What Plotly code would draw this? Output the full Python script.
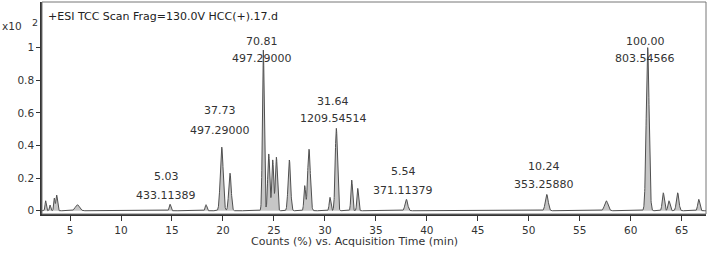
import numpy as np
import plotly.graph_objects as go

# ---- Data (retention time in min, relative height x10^2) ----
peak_rt = [2.61, 3.04, 3.46, 3.69, 5.72, 14.81, 18.34, 19.88, 20.69, 23.96, 24.49, 24.88,
           25.24, 26.51, 28.02, 28.44, 30.50, 31.12, 32.63, 33.22, 37.99, 51.76, 57.60,
           61.66, 63.19, 63.75, 64.60, 66.67]
peak_height = [0.061, 0.035, 0.076, 0.096, 0.037, 0.040, 0.037, 0.390, 0.230, 0.985, 0.348,
               0.311, 0.328, 0.311, 0.152, 0.377, 0.082, 0.505, 0.188, 0.137, 0.070, 0.100,
               0.061, 1.000, 0.110, 0.061, 0.110, 0.070]
peak_width = [0.06, 0.06, 0.06, 0.08, 0.20, 0.08, 0.08, 0.14, 0.12, 0.09, 0.10, 0.09,
              0.10, 0.12, 0.08, 0.13, 0.08, 0.11, 0.08, 0.08, 0.13, 0.14, 0.17,
              0.14, 0.10, 0.10, 0.12, 0.10]

label_pct = ["5.03", "37.73", "70.81", "31.64", "5.54", "10.24", "100.00"]
label_mz = ["433.11389", "497.29000", "497.29000", "1209.54514", "371.11379", "353.25880", "803.54566"]

x_ticks = [5, 10, 15, 20, 25, 30, 35, 40, 45, 50, 55, 60, 65]
y_ticks = [0, 0.2, 0.4, 0.6, 0.8, 1]

# ---- label placement (data units) ----
label_x = [14.42, 19.71, 23.83, 30.80, 37.66, 51.50, 61.40]
label_y_top = [0.207, 0.612, 1.037, 0.669, 0.239, 0.274, 1.037]
label_y_bot = [0.096, 0.495, 0.935, 0.567, 0.123, 0.162, 0.931]

# ---- build trace from peak table ----
t = np.arange(2.25, 67.40, 0.01)
y = np.zeros_like(t)
for rt, h, w in zip(peak_rt, peak_height, peak_width):
    y += h * np.exp(-0.5 * ((t - rt) / w) ** 2)

FONT = "DejaVu Sans"
fig = go.Figure()
fig.add_trace(go.Scatter(
    x=t, y=y, mode="lines", fill="tozeroy",
    fillcolor="#c6c6c6", line=dict(color="#505050", width=1),
    hoverinfo="skip", showlegend=False))

ann = []
for lx, p, m, yt, yb in zip(label_x, label_pct, label_mz, label_y_top, label_y_bot):
    ann.append(dict(x=lx, y=yt, text=p, showarrow=False, xanchor="center", yanchor="middle",
                    font=dict(family=FONT, size=11, color="#333333")))
    ann.append(dict(x=lx, y=yb, text=m, showarrow=False, xanchor="center", yanchor="middle",
                    font=dict(family=FONT, size=11, color="#333333")))

# header texts
ann.append(dict(xref="paper", yref="paper", x=0.0066, y=0.933, xanchor="left", yanchor="middle",
                text="+ESI TCC Scan Frag=130.0V HCC(+).17.d", showarrow=False,
                font=dict(family=FONT, size=11, color="#222222")))
ann.append(dict(xref="paper", yref="paper", x=-0.0633, y=0.885, xanchor="left", yanchor="middle",
                text="x10", showarrow=False, font=dict(family=FONT, size=10.5, color="#333333")))
ann.append(dict(xref="paper", yref="paper", x=-0.0185, y=0.905, xanchor="left", yanchor="middle",
                text="2", showarrow=False, font=dict(family=FONT, size=9.5, color="#333333")))
# x-axis title
ann.append(dict(xref="paper", yref="paper", x=0.4707, y=-0.13, xanchor="center", yanchor="middle",
                text="Counts (%) vs. Acquisition Time (min)", showarrow=False,
                font=dict(family=FONT, size=11, color="#333333")))

fig.update_layout(
    width=708, height=260,
    margin=dict(l=42, r=2, t=2, b=46),
    paper_bgcolor="white", plot_bgcolor="white",
    annotations=ann,
    shapes=[dict(type="rect", xref="paper", yref="paper", x0=0, y0=0, x1=1, y1=1,
                 line=dict(color="#777777", width=1), layer="above")],
    xaxis=dict(range=[2.25, 67.38], tickvals=x_ticks, ticks="outside", ticklen=5,
               tickcolor="#333333", showline=True, linecolor="#333333", linewidth=2,
               showgrid=False, zeroline=False,
               tickfont=dict(family=FONT, size=10.5, color="#333333")),
    yaxis=dict(range=[-0.02, 1.28], tickvals=y_ticks, ticktext=["0", "0.2", "0.4", "0.6", "0.8", "1"],
               ticks="outside", ticklen=4, tickcolor="#333333", showline=True,
               linecolor="#333333", linewidth=1.5, showgrid=False, zeroline=False,
               tickfont=dict(family=FONT, size=10.5, color="#333333")),
)

fig.write_html("out.html", config={"displayModeBar": False},
               post_script="document.body.style.margin='0';document.body.style.padding='0';")
